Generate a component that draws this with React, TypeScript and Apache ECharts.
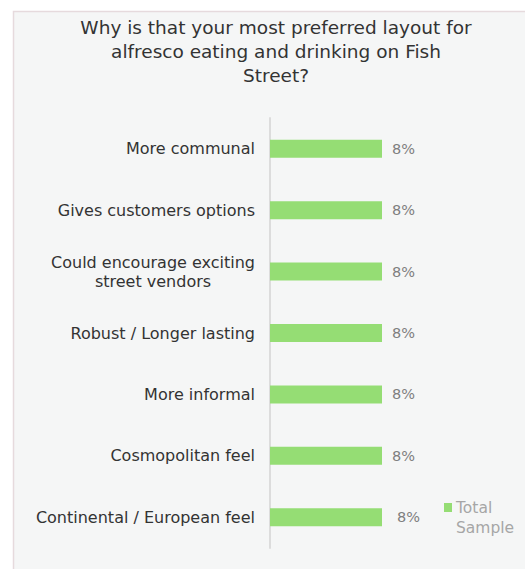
import React, { useEffect, useRef } from "react";
import * as echarts from "echarts";

const categories = [
  "More communal",
  "Gives customers options",
  "Could encourage exciting\nstreet vendors",
  "Robust / Longer lasting",
  "More informal",
  "Cosmopolitan feel",
  "Continental / European feel",
];
const values = [8, 8, 8, 8, 8, 8, 8];
const seriesName = "Total Sample";
const titleText =
  "Why is that your most preferred layout for\nalfresco eating and drinking on Fish\nStreet?";

export default function App() {
  const ref = useRef<HTMLDivElement>(null);
  useEffect(() => {
    document.body.style.margin = "0";
    const chart = echarts.init(ref.current!, undefined, { renderer: "svg" });
    const font = "DejaVu Sans";
    chart.setOption({
      animation: false,
      backgroundColor: "#ffffff",
      textStyle: { fontFamily: font },
      graphic: [
        {
          type: "rect",
          z: -100,
          silent: true,
          shape: { x: 13.5, y: 11.5, width: 530, height: 580 },
          style: { fill: "#f5f6f6", stroke: "#e6dadd", lineWidth: 1.5 },
        },
        {
          type: "text",
          x: 276,
          y: 15,
          silent: true,
          style: {
            text: titleText,
            align: "center",
            verticalAlign: "top",
            fontFamily: font,
            fontSize: 18.5,
            lineHeight: 24,
            fill: "#333333",
          },
        },
      ],
      legend: {
        left: 444,
        top: 497.5,
        padding: 0,
        itemWidth: 8,
        itemHeight: 40,
        icon:
          "path://M0,5.5h8v9h-8z M0,0h0.01v0.01h-0.01z M0,39.99h0.01v0.01h-0.01z",
        formatter: () => "Total\nSample",
        textStyle: {
          fontFamily: font,
          fontSize: 15.5,
          color: "#a6a6a6",
          lineHeight: 20,
          padding: [0, 0, 0, -1],
        },
        data: [seriesName],
      },
      grid: { left: 270, top: 118, width: 140, height: 430 },
      xAxis: {
        type: "value",
        min: 0,
        max: 10,
        show: false,
      },
      yAxis: {
        type: "category",
        inverse: true,
        data: categories,
        axisTick: { show: false },
        axisLine: { show: true, lineStyle: { color: "#dcdcdc", width: 2 } },
        axisLabel: {
          margin: 15,
          color: "#333333",
          fontSize: 16,
          fontFamily: font,
          lineHeight: 19,
          formatter: (v: string) =>
            v
              .split("\n")
              .map((l) => "{c|" + l + "}")
              .join("\n"),
          rich: {
            c: {
              align: "center",
              fontSize: 16,
              fontFamily: font,
              color: "#333333",
              lineHeight: 19,
            },
          },
        },
        splitLine: { show: false },
      },
      series: [
        {
          name: seriesName,
          type: "bar",
          data: values.map((v, i) =>
            i === values.length - 1
              ? { value: v, label: { distance: 15 } }
              : v
          ),
          barWidth: 18,
          itemStyle: { color: "#95dd74" },
          label: {
            show: true,
            position: "right",
            distance: 10,
            formatter: "{c}%",
            color: "#7f7f7f",
            fontSize: 14.5,
            fontFamily: font,
          },
        },
      ],
    });
    return () => chart.dispose();
  }, []);
  return <div ref={ref} style={{ width: 525, height: 569 }} />;
}
